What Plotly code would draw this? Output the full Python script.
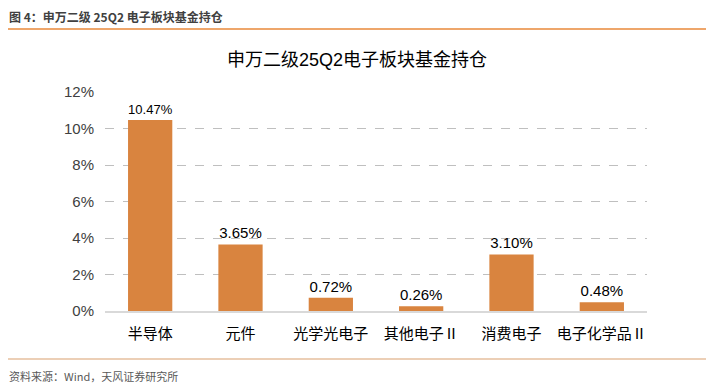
import plotly.graph_objects as go

categories = ["半导体", "元件", "光学光电子", "其他电子Ⅱ", "消费电子", "电子化学品Ⅱ"]
values = [10.47, 3.65, 0.72, 0.26, 3.10, 0.48]
tick_vals = [0, 2, 4, 6, 8, 10, 12]
tick_text = ["0%", "2%", "4%", "6%", "8%", "10%", "12%"]

BAR = "#D9843F"
FONT = "Liberation Sans, Noto Sans CJK SC, sans-serif"

# page body has an 8px default margin: figure is drawn 8px smaller and offset
W, H = 706, 380
L, T, R, B = 97, 84, 67, 77
PW, PH = W - L - R, H - T - B

def px(x):
    return (x - 8 - L) / PW

def py(y):
    return 1 - (y - 8 - T) / PH

fig = go.Figure()
fig.add_trace(go.Bar(
    x=categories, y=values, width=0.49,
    marker=dict(color=BAR, line=dict(width=0)),
    text=[f"{v:.2f}%" for v in values], textposition="outside",
    textfont=dict(size=15, color="#000000", family=FONT),
    cliponaxis=False,
))

fig.update_layout(
    width=W, height=H,
    paper_bgcolor="white", plot_bgcolor="white",
    margin=dict(l=L, r=R, t=T, b=B),
    showlegend=False,
    font=dict(family=FONT, color="#000000"),
    title=dict(text="申万二级25Q2电子板块基金持仓", x=px(357), xref="paper", xanchor="center",
               y=1 - (60 - 8) / H, yanchor="middle",
               font=dict(size=18, color="#000000", family=FONT)),
    bargap=0.5,
    xaxis=dict(showline=True, linecolor="#D9D9D9", linewidth=1.5, ticks="",
               ticklabelstandoff=8,
               tickfont=dict(size=15, color="#000000", family=FONT), fixedrange=True),
    yaxis=dict(range=[0, 12], tickvals=tick_vals, ticktext=tick_text,
               showgrid=True, gridcolor="#BFBFBF", griddash="dash", gridwidth=1,
               zeroline=False, showline=False, ticks="", ticklabelstandoff=10,
               tickfont=dict(size=15, color="#404040", family=FONT)),
)

# header and source
fig.add_annotation(text="<b>图 4：申万二级 25Q2 电子板块基金持仓</b>", xref="paper", yref="paper",
                   x=px(7), y=py(16), xanchor="left", yanchor="middle",
                   showarrow=False, font=dict(size=12, color="#404040", family="Noto Sans CJK SC"))
fig.add_annotation(text="资料来源：Wind，天风证券研究所", xref="paper", yref="paper",
                   x=px(7), y=py(376), xanchor="left", yanchor="middle",
                   showarrow=False, font=dict(size=11, color="#595959", family="Noto Sans CJK SC"))
fig.add_shape(type="line", xref="paper", yref="paper", x0=px(0), x1=px(714),
              y0=py(29), y1=py(29), line=dict(color="#E8893A", width=1.5))
fig.add_shape(type="line", xref="paper", yref="paper", x0=px(0), x1=px(714),
              y0=py(359), y1=py(359), line=dict(color="#D9A06E", width=1.2))

fig.write_html("out.html")
